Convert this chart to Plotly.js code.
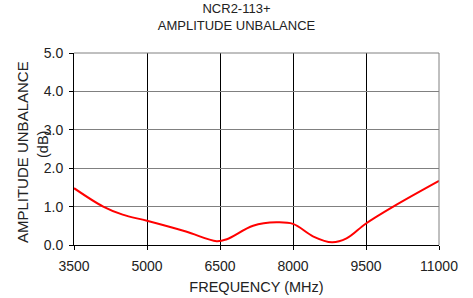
<!DOCTYPE html>
<html><head><meta charset="utf-8">
<script src="https://cdn.plot.ly/plotly-3.0.1.min.js"></script>
<style>html,body{margin:0;padding:0;background:#fff}#chart{width:473px;height:298px}</style>
</head><body><div id="chart"></div>
<script>
const freqMHz = [3500, 4100, 4500, 5000, 5800, 6430, 6640, 7180, 7660, 8000, 8420, 8800, 9100, 9500, 10060, 11000];
const unbalanceDb = [1.48, 1.0, 0.79, 0.63, 0.35, 0.10, 0.15, 0.50, 0.59, 0.55, 0.22, 0.07, 0.17, 0.56, 1.0, 1.67];
const xTicks = [3500, 5000, 6500, 8000, 9500, 11000];
const yTicks = [0, 1, 2, 3, 4, 5];
const yTickText = ['0.0', '1.0', '2.0', '3.0', '4.0', '5.0'];
const yTitleMain = 'AMPLITUDE UNBALANCE';
const yTitleUnit = '(dB)';

const font = {family: 'Liberation Sans, Arial, sans-serif', color: '#222'};
Plotly.newPlot('chart', [{
  x: freqMHz, y: unbalanceDb, type: 'scatter', mode: 'lines',
  line: {color: '#ff0000', width: 2, shape: 'spline', smoothing: 1}
}], {
  width: 473, height: 298,
  margin: {l: 74, r: 34, t: 53, b: 53},
  paper_bgcolor: '#fff', plot_bgcolor: '#fff',
  showlegend: false,
  font: Object.assign({size: 14}, font),
  title: {text: 'NCR2-113+<br>AMPLITUDE UNBALANCE', font: Object.assign({size: 13}, font), x: 0.5, xanchor: 'center', yref: 'container', y: 0.955, yanchor: 'top'},
  xaxis: {
    range: [3500, 11000], tickvals: xTicks, ticktext: xTicks.map(String),
    showgrid: true, gridcolor: '#000', gridwidth: 1,
    showline: true, linecolor: '#000', linewidth: 1,
    ticks: 'outside', ticklen: 4, tickcolor: '#000', ticklabelstandoff: 4,
    zeroline: false, tickfont: Object.assign({size: 14}, font),
    title: {text: 'FREQUENCY (MHz)', font: Object.assign({size: 14.5}, font), standoff: 9}
  },
  yaxis: {
    range: [0, 5], tickvals: yTicks, ticktext: yTickText,
    showgrid: true, gridcolor: '#808080', gridwidth: 1,
    showline: true, linecolor: '#000', linewidth: 1,
    ticks: 'outside', ticklen: 4, tickcolor: '#000', ticklabelstandoff: 3,
    zeroline: false, tickfont: Object.assign({size: 14}, font)
  },
  annotations: [
    {text: yTitleMain, xref: 'paper', yref: 'paper', x: -0.1425, y: 0.484, xanchor: 'center', yanchor: 'middle', textangle: -90, showarrow: false, font: Object.assign({size: 15}, font)},
    {text: yTitleUnit, xref: 'paper', yref: 'paper', x: -0.0849, y: 0.521, xanchor: 'center', yanchor: 'middle', textangle: -90, showarrow: false, font: Object.assign({size: 14.5}, font)}
  ],
  shapes: [
    {type: 'line', xref: 'paper', yref: 'paper', x0: 0, x1: 1, y0: 1, y1: 1, line: {color: '#808080', width: 1}, layer: 'above'},
    {type: 'line', xref: 'paper', yref: 'paper', x0: 1, x1: 1, y0: 0, y1: 1, line: {color: '#808080', width: 1}, layer: 'above'}
  ]
}, {staticPlot: true});
</script></body></html>
